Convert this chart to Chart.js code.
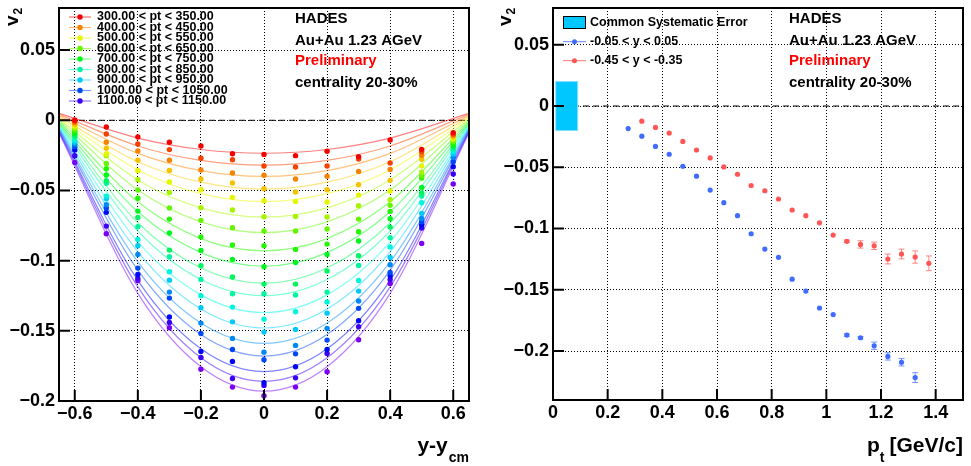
<!DOCTYPE html>
<html>
<head>
<meta charset="utf-8">
<script src="https://cdn.jsdelivr.net/npm/chart.js@4.4.1/dist/chart.umd.min.js"></script>
<style>
body{margin:0;background:#fff;width:971px;height:466px;overflow:hidden;position:relative}
canvas{position:absolute;top:0}
#left{left:0}
#right{left:485px}
</style>
</head>
<body>
<canvas id="left" width="485" height="466"></canvas>
<canvas id="right" width="486" height="466"></canvas>
<script>
// ---- left panel: v2 vs rapidity, one row per pt bin ----
var rapidity = [-0.6,-0.5,-0.4,-0.3,-0.2,-0.1,0,0.1,0.2,0.3,0.4,0.5,0.6];
var ptBins = ['300.00 < pt < 350.00','350.00 < pt < 400.00','400.00 < pt < 450.00','450.00 < pt < 500.00',
  '500.00 < pt < 550.00','550.00 < pt < 600.00','600.00 < pt < 650.00','650.00 < pt < 700.00',
  '700.00 < pt < 750.00','750.00 < pt < 800.00','800.00 < pt < 850.00','850.00 < pt < 900.00',
  '900.00 < pt < 950.00','950.00 < pt < 1000.00','1000.00 < pt < 1050.00','1050.00 < pt < 1100.00',
  '1100.00 < pt < 1150.00','1150.00 < pt < 1200.00'];
var v2_300  = [0.0002,-0.0048,-0.0119,-0.0157,-0.0183,-0.0238,-0.0243,-0.0252,-0.0221,-0.0259,-0.0140,-0.0207,-0.0088];
var v2_350  = [-0.0007,-0.0098,-0.0169,-0.0209,-0.0271,-0.0281,-0.0326,-0.0333,-0.0326,-0.0276,-0.0304,-0.0224,-0.0098];
var v2_400  = [-0.0017,-0.0157,-0.0219,-0.0285,-0.0354,-0.0376,-0.0392,-0.0418,-0.0399,-0.0364,-0.0350,-0.0250,-0.0107];
var v2_450  = [-0.0029,-0.0200,-0.0285,-0.0357,-0.0418,-0.0447,-0.0487,-0.0511,-0.0495,-0.0459,-0.0428,-0.0278,-0.0117];
var v2_500  = [-0.0041,-0.0240,-0.0359,-0.0440,-0.0495,-0.0549,-0.0573,-0.0578,-0.0582,-0.0533,-0.0504,-0.0326,-0.0129];
var v2_550  = [-0.0053,-0.0252,-0.0423,-0.0514,-0.0623,-0.0639,-0.0687,-0.0685,-0.0689,-0.0609,-0.0566,-0.0369,-0.0140];
var v2_600  = [-0.0064,-0.0307,-0.0497,-0.0625,-0.0713,-0.0765,-0.0789,-0.0789,-0.0775,-0.0704,-0.0606,-0.0397,-0.0152];
var v2_650  = [-0.0079,-0.0345,-0.0556,-0.0704,-0.0832,-0.0889,-0.0894,-0.0920,-0.0882,-0.0794,-0.0649,-0.0411,-0.0164];
var v2_700  = [-0.0093,-0.0390,-0.0647,-0.0803,-0.0927,-0.0991,-0.1043,-0.1013,-0.0956,-0.0860,-0.0701,-0.0478,-0.0178];
var v2_750  = [-0.0107,-0.0430,-0.0692,-0.0925,-0.1036,-0.1117,-0.1167,-0.1167,-0.1074,-0.0965,-0.0761,-0.0518,-0.0193];
var v2_800  = [-0.0121,-0.0449,-0.0758,-0.0972,-0.1134,-0.1236,-0.1236,-0.1245,-0.1224,-0.1034,-0.0837,-0.0540,-0.0207];
var v2_850  = [-0.0140,-0.0540,-0.0849,-0.1079,-0.1250,-0.1331,-0.1417,-0.1364,-0.1295,-0.1141,-0.0903,-0.0587,-0.0221];
var v2_900  = [-0.0157,-0.0559,-0.0894,-0.1139,-0.1336,-0.1436,-0.1509,-0.1490,-0.1374,-0.1217,-0.0977,-0.0663,-0.0240];
var v2_950  = [-0.0171,-0.0601,-0.0956,-0.1224,-0.1445,-0.1554,-0.1652,-0.1604,-0.1483,-0.1288,-0.1029,-0.0699,-0.0264];
var v2_1000 = [-0.0188,-0.0625,-0.1053,-0.1267,-0.1519,-0.1633,-0.1706,-0.1664,-0.1566,-0.1340,-0.1084,-0.0723,-0.0295];
var v2_1050 = [-0.0212,-0.0656,-0.1098,-0.1402,-0.1647,-0.1718,-0.1870,-0.1756,-0.1633,-0.1428,-0.1108,-0.0746,-0.0331];
var v2_1100 = [-0.0252,-0.0754,-0.1127,-0.1440,-0.1690,-0.1840,-0.1889,-0.1835,-0.1661,-0.1471,-0.1134,-0.0768,-0.0383];
var v2_1150 = [-0.0300,-0.0808,-0.1143,-0.1478,-0.1773,-0.1901,-0.1963,-0.1901,-0.1792,-0.1564,-0.1162,-0.0877,-0.0454];
var v2Rows = [v2_300,v2_350,v2_400,v2_450,v2_500,v2_550,v2_600,v2_650,v2_700,v2_750,v2_800,v2_850,v2_900,v2_950,v2_1000,v2_1050,v2_1100,v2_1150];

// fit curves, read at |y| = 0.65, 0.4, 0.2, 0 (symmetric)
var fitX    = [-0.65,-0.4,-0.2,0,0.2,0.4,0.65];
var fitEdge = [0.0050,0.0042,0.0034,0.0025,0.0017,0.0009,0.0001,-0.0008,-0.0016,-0.0024,-0.0032,-0.0041,-0.0049,-0.0057,-0.0065,-0.0074,-0.0082,-0.0090];
var fit04   = [-0.0127,-0.0183,-0.0236,-0.0295,-0.0354,-0.0425,-0.0497,-0.0581,-0.0652,-0.0730,-0.0789,-0.0867,-0.0938,-0.1009,-0.1068,-0.1140,-0.1187,-0.1233];
var fit02   = [-0.0208,-0.0286,-0.0359,-0.0441,-0.0523,-0.0624,-0.0724,-0.0843,-0.0943,-0.1052,-0.1135,-0.1244,-0.1345,-0.1445,-0.1527,-0.1628,-0.1692,-0.1756];
var fitMid  = [-0.0235,-0.0320,-0.0400,-0.0490,-0.0580,-0.0690,-0.0800,-0.0930,-0.1040,-0.1160,-0.1250,-0.1370,-0.1480,-0.1590,-0.1680,-0.1790,-0.1860,-0.1930];

var leftXTicks = [-0.6,-0.4,-0.2,0,0.2,0.4,0.6];
var leftYTicks = [-0.2,-0.15,-0.1,-0.05,0,0.05];

// ---- right panel: v2 vs pt ----
var ptMid  = [0.275,0.325,0.375,0.425,0.475,0.525,0.575,0.625,0.675,0.725,0.775,0.825,0.875,0.925,0.975,1.025,1.075,1.125,1.175,1.225,1.275,1.325];
var v2Mid  = [-0.0184,-0.0246,-0.0330,-0.0394,-0.0492,-0.0573,-0.0686,-0.0789,-0.0895,-0.1043,-0.1168,-0.1235,-0.1414,-0.1511,-0.1649,-0.1703,-0.1870,-0.1892,-0.1957,-0.2044,-0.2092,-0.2217];
var errMid = [0,0,0,0,0,0,0,0,0,0,0,0,0,0,0,0,0.001,0.001,0.003,0.003,0.003,0.004];
var ptBack  = [0.325,0.375,0.425,0.475,0.525,0.575,0.625,0.675,0.725,0.775,0.825,0.875,0.925,0.975,1.025,1.075,1.125,1.175,1.225,1.275,1.325,1.375];
var v2Back  = [-0.0124,-0.0175,-0.0221,-0.0289,-0.0359,-0.0424,-0.0497,-0.0557,-0.0649,-0.0692,-0.0759,-0.0849,-0.0895,-0.0954,-0.1054,-0.1105,-0.1130,-0.1141,-0.1249,-0.1208,-0.1233,-0.1284];
var errBack = [0,0,0,0,0,0,0,0,0,0,0,0,0,0,0,0.001,0.003,0.003,0.004,0.004,0.005,0.006];
var sysBoxX = [0.01,0.09];
var sysErr  = 0.02;
var rightXTicks = [0,0.2,0.4,0.6,0.8,1,1.2,1.4];
var rightYTicks = [-0.2,-0.15,-0.1,-0.05,0,0.05];

var FONT = '"Liberation Sans", Arial, Helvetica, sans-serif';

function hue(i){ return i * 270 / 17; }
function fmtTick(v){
  if (Math.abs(v) < 1e-9) return '0';
  return String(+v.toFixed(2)).replace('-', '\u2212');
}
function axis(min, max, ticks, size, isX){
  return {
    type: 'linear', min: min, max: max,
    afterBuildTicks: function(s){ s.ticks = ticks.map(function(v){ return {value: v}; }); },
    afterFit: function(s){
      if (isX) s.height = size; else s.width = size;
      s.paddingTop = 0; s.paddingBottom = 0; s.paddingLeft = 0; s.paddingRight = 0;
    },
    ticks: {font: {family: FONT, size: 18, weight: 'bold'}, color: '#000', padding: isX ? 2 : 4,
      callback: fmtTick, autoSkip: false, maxRotation: 0},
    grid: {color: '#000', lineWidth: 1, drawTicks: false},
    border: {display: false, dash: [1, 2]}
  };
}
function txt(ctx, s, x, y, size, color, align){
  ctx.font = 'bold ' + size + 'px ' + FONT;
  ctx.fillStyle = color || '#000';
  ctx.textAlign = align || 'left';
  ctx.textBaseline = 'middle';
  ctx.fillText(s, x, y);
}
function labels(ctx, x){
  txt(ctx, 'HADES', x, 19, 15);
  txt(ctx, 'Au+Au 1.23 AGeV', x, 41, 15);
  txt(ctx, 'Preliminary', x, 61, 15, '#ff0000');
  txt(ctx, 'centrality 20-30%', x, 83, 15);
}
function yTitle(ctx, x, y){
  ctx.save();
  ctx.translate(x, y);
  ctx.rotate(-Math.PI / 2);
  ctx.font = 'bold 19px ' + FONT;
  ctx.fillStyle = '#000';
  ctx.textAlign = 'left';
  ctx.textBaseline = 'alphabetic';
  ctx.fillText('v', 0, 0);
  var w = ctx.measureText('v').width;
  ctx.font = 'bold 12px ' + FONT;
  ctx.fillText('2', w + 1, 4);
  ctx.restore();
}

// frame, inner tick marks and dashed zero line
var frame = {
  id: 'frame',
  beforeDatasetsDraw: function(chart){
    var ctx = chart.ctx, a = chart.chartArea, y0 = chart.scales.y.getPixelForValue(0);
    ctx.save();
    ctx.strokeStyle = '#000'; ctx.lineWidth = 1; ctx.setLineDash([6, 4]);
    ctx.beginPath(); ctx.moveTo(a.left, y0); ctx.lineTo(a.right, y0); ctx.stroke();
    ctx.restore();
  },
  afterDraw: function(chart){
    var ctx = chart.ctx, a = chart.chartArea;
    ctx.save();
    ctx.strokeStyle = '#000'; ctx.lineWidth = 2;
    ctx.strokeRect(a.left, a.top, a.right - a.left, a.bottom - a.top);
    ctx.beginPath();
    chart.scales.x.ticks.forEach(function(t){
      var px = chart.scales.x.getPixelForValue(t.value);
      ctx.moveTo(px, a.bottom); ctx.lineTo(px, a.bottom - 11);
    });
    chart.scales.y.ticks.forEach(function(t){
      var py = chart.scales.y.getPixelForValue(t.value);
      ctx.moveTo(a.left, py); ctx.lineTo(a.left + 11, py);
    });
    ctx.stroke();
    ctx.restore();
  }
};

var errorBars = {
  id: 'errorBars',
  beforeDatasetsDraw: function(chart){
    var ctx = chart.ctx, xs = chart.scales.x, ys = chart.scales.y;
    chart.data.datasets.forEach(function(ds){
      if (!ds.errors) return;
      ctx.save();
      ctx.strokeStyle = ds.errorColor; ctx.lineWidth = 1;
      ds.data.forEach(function(p, j){
        var e = ds.errors[j];
        if (!e) return;
        var px = xs.getPixelForValue(p.x), y1 = ys.getPixelForValue(p.y + e), y2 = ys.getPixelForValue(p.y - e);
        ctx.beginPath();
        ctx.moveTo(px, y1); ctx.lineTo(px, y2);
        ctx.moveTo(px - 3, y1); ctx.lineTo(px + 3, y1);
        ctx.moveTo(px - 3, y2); ctx.lineTo(px + 3, y2);
        ctx.stroke();
      });
      ctx.restore();
    });
  }
};

// ---------- left chart ----------
var leftSets = [];
v2Rows.forEach(function(row, i){
  leftSets.push({
    label: ptBins[i],
    data: row.map(function(v, j){ return {x: rapidity[j], y: v}; }),
    showLine: false, pointRadius: 2.7, pointHoverRadius: 2.7, borderWidth: 0,
    backgroundColor: 'hsl(' + hue(i) + ',100%,48%)', order: 0
  });
});
v2Rows.forEach(function(row, i){
  var curve = [fitEdge[i], fit04[i], fit02[i], fitMid[i], fit02[i], fit04[i], fitEdge[i]];
  leftSets.push({
    label: 'fit ' + ptBins[i],
    data: curve.map(function(v, j){ return {x: fitX[j], y: v}; }),
    showLine: true, pointRadius: 0, borderWidth: 1.2, cubicInterpolationMode: 'monotone',
    borderColor: 'hsla(' + hue(i) + ',100%,50%,0.5)', order: 1
  });
});

var leftLegend = {
  id: 'leftLegend',
  afterDraw: function(chart){
    var ctx = chart.ctx;
    yTitle(ctx, 18, 26);
    for (var k = 0; k < 9; k++){
      var i = k * 2, y = 17 + k * 10.5;
      ctx.save();
      ctx.strokeStyle = 'hsla(' + hue(i) + ',100%,50%,0.55)'; ctx.lineWidth = 1.2;
      ctx.beginPath(); ctx.moveTo(69, y); ctx.lineTo(91, y); ctx.stroke();
      ctx.fillStyle = 'hsl(' + hue(i) + ',100%,48%)';
      ctx.beginPath(); ctx.arc(80, y, 2.7, 0, Math.PI * 2); ctx.fill();
      ctx.restore();
      txt(ctx, ptBins[i], 97, y, 12.5);
    }
    labels(ctx, 295);
    // x title: y-y_cm
    ctx.font = 'bold 14px ' + FONT;
    var wcm = ctx.measureText('cm').width;
    ctx.textBaseline = 'alphabetic'; ctx.textAlign = 'right'; ctx.fillStyle = '#000';
    ctx.fillText('cm', 469, 462);
    ctx.font = 'bold 21px ' + FONT;
    ctx.fillText('y-y', 469 - wcm - 1, 452);
  }
};

new Chart(document.getElementById('left'), {
  type: 'scatter',
  data: {datasets: leftSets},
  options: {
    responsive: false, animation: false, devicePixelRatio: 1,
    layout: {padding: {left: 0, top: 8, right: 16, bottom: 0}},
    plugins: {legend: {display: false}, tooltip: {enabled: false}},
    scales: {
      x: axis(-0.65, 0.65, leftXTicks, 65, true),
      y: axis(-0.2, 0.08, leftYTicks, 59, false)
    }
  },
  plugins: [frame, leftLegend]
});

// ---------- right chart ----------
var sysBox = {
  id: 'sysBox',
  beforeDatasetsDraw: function(chart){
    var ctx = chart.ctx, xs = chart.scales.x, ys = chart.scales.y;
    var x1 = xs.getPixelForValue(sysBoxX[0]), x2 = xs.getPixelForValue(sysBoxX[1]);
    var y1 = ys.getPixelForValue(sysErr), y2 = ys.getPixelForValue(-sysErr);
    ctx.save();
    ctx.fillStyle = '#00c8ff';
    ctx.fillRect(x1, y1, x2 - x1, y2 - y1);
    ctx.strokeStyle = '#7fe0ff'; ctx.lineWidth = 1;
    ctx.strokeRect(x1, y1, x2 - x1, y2 - y1);
    ctx.restore();
  }
};

var rightLegend = {
  id: 'rightLegend',
  afterDraw: function(chart){
    var ctx = chart.ctx;
    yTitle(ctx, 26, 26);
    ctx.save();
    ctx.fillStyle = '#00c8ff'; ctx.fillRect(78, 16, 23, 13);
    ctx.strokeStyle = '#000'; ctx.lineWidth = 1; ctx.strokeRect(78.5, 16.5, 22, 12);
    ctx.restore();
    txt(ctx, 'Common Systematic Error', 105, 23, 12.5);
    var rows = [['-0.05 < y < 0.05', '#3f6bff', 'rgba(63,107,255,0.8)', 41.7], ['-0.45 < y < -0.35', '#ff5555', 'rgba(255,85,85,0.8)', 60.7]];
    rows.forEach(function(r){
      ctx.save();
      ctx.strokeStyle = r[2]; ctx.lineWidth = 1;
      ctx.beginPath(); ctx.moveTo(78, r[3]); ctx.lineTo(101, r[3]); ctx.stroke();
      ctx.fillStyle = r[1];
      ctx.beginPath(); ctx.arc(89.5, r[3], 2.5, 0, Math.PI * 2); ctx.fill();
      ctx.restore();
      txt(ctx, r[0], 105, r[3], 12.5);
    });
    labels(ctx, 304);
    // x title: p_t [GeV/c]
    ctx.fillStyle = '#000'; ctx.textBaseline = 'alphabetic'; ctx.textAlign = 'right';
    ctx.font = 'bold 21px ' + FONT;
    var wg = ctx.measureText('[GeV/c]').width;
    ctx.fillText('[GeV/c]', 478, 452);
    ctx.font = 'bold 14px ' + FONT;
    var wt = ctx.measureText('t').width;
    ctx.fillText('t', 478 - wg - 5, 462);
    ctx.font = 'bold 21px ' + FONT;
    ctx.fillText('p', 478 - wg - 5 - wt, 452);
  }
};

new Chart(document.getElementById('right'), {
  type: 'scatter',
  data: {datasets: [
    {label: '-0.05 < y < 0.05', data: v2Mid.map(function(v, j){ return {x: ptMid[j], y: v}; }),
      errors: errMid, errorColor: 'rgba(63,107,255,0.7)',
      pointRadius: 2.6, pointHoverRadius: 2.6, borderWidth: 0, backgroundColor: '#3f6bff'},
    {label: '-0.45 < y < -0.35', data: v2Back.map(function(v, j){ return {x: ptBack[j], y: v}; }),
      errors: errBack, errorColor: 'rgba(255,85,85,0.7)',
      pointRadius: 2.6, pointHoverRadius: 2.6, borderWidth: 0, backgroundColor: '#ff5555'}
  ]},
  options: {
    responsive: false, animation: false, devicePixelRatio: 1,
    layout: {padding: {left: 0, top: 8, right: 8, bottom: 0}},
    plugins: {legend: {display: false}, tooltip: {enabled: false}},
    scales: {
      x: axis(0, 1.5, rightXTicks, 66, true),
      y: axis(-0.24, 0.08, rightYTicks, 68, false)
    }
  },
  plugins: [frame, sysBox, errorBars, rightLegend]
});
</script>
</body>
</html>
